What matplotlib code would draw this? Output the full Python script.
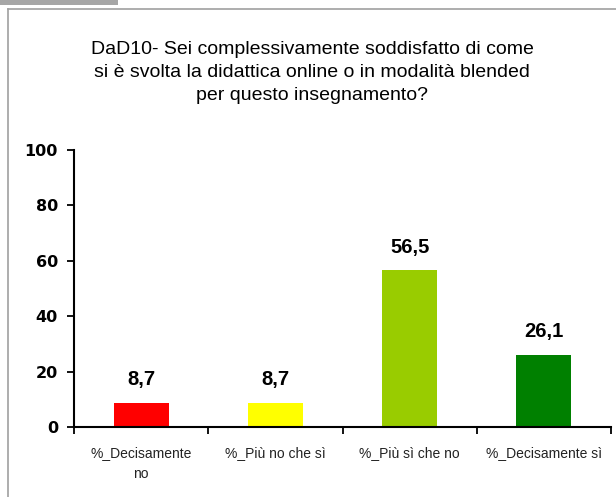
import matplotlib
matplotlib.use("Agg")
import matplotlib.pyplot as plt
from matplotlib.lines import Line2D
from matplotlib.patches import Rectangle

categories = ["%_Decisamente\nno", "%_Più no che sì", "%_Più sì che no", "%_Decisamente sì"]
values = [8.7, 8.7, 56.5, 26.1]
value_labels = ["8,7", "8,7", "56,5", "26,1"]
colors = ["#FF0000", "#FFFF00", "#99CC00", "#008000"]
yticks = [0, 20, 40, 60, 80, 100]
title = ("DaD10- Sei complessivamente soddisfatto di come\n"
         "si è svolta la didattica online o in modalità blended\n"
         "per questo insegnamento?")

W, H = 616, 497
fig = plt.figure(figsize=(W / 100, H / 100), dpi=100)
plt.rcParams['font.family'] = ['Liberation Sans', 'DejaVu Sans']

# frame decorations
fig.add_artist(Rectangle((0, 1 - 5 / H), 118 / W, 5 / H, transform=fig.transFigure,
                         facecolor="#a6a6a6", edgecolor="none"))
fig.add_artist(Line2D([8 / W, 8 / W], [0, 1 - 9 / H], transform=fig.transFigure,
                      color="#a0a0a0", lw=1.2))
fig.add_artist(Line2D([8 / W, 1], [1 - 9 / H, 1 - 9 / H], transform=fig.transFigure,
                      color="#a0a0a0", lw=1.2))

ax = fig.add_axes([74 / W, 1 - 427 / H, (611 - 74) / W, (427 - 150) / H])
x = list(range(len(categories)))
bars = ax.bar(x, values, width=0.41, color=colors, edgecolor="none", zorder=2)
for xi, v, lab in zip(x, values, value_labels):
    ax.annotate(lab, (xi, v), xytext=(0, 10), textcoords="offset points",
                ha="center", va="bottom", fontsize=14.5, fontweight="bold", color="black")

ax.set_xlim(-0.5, len(categories) - 0.5)
ax.set_ylim(0, 100)
ax.set_yticks(yticks)
ax.set_yticklabels([str(t) for t in yticks], fontsize=11.5, fontweight="bold",
                   family="DejaVu Sans")
ax.set_xticks(x)
ax.set_xticklabels(categories, fontsize=10, color="#222222", linespacing=1.6)
ax.set_xticks([i - 0.5 for i in range(len(categories) + 1)], minor=True)
ax.tick_params(axis="x", which="major", length=0, pad=14)
ax.tick_params(axis="x", which="minor", length=5, width=1.3, direction="out")
ax.tick_params(axis="y", which="major", length=5, width=1.3, direction="out", pad=6.5)
for s in ["top", "right"]:
    ax.spines[s].set_visible(False)
for s in ["left", "bottom"]:
    ax.spines[s].set_linewidth(1.5)
    ax.spines[s].set_color("black")

fig.text(312 / W, 1 - 72.5 / H, title, ha="center", va="center", fontsize=14,
         linespacing=1.48, color="black")

fig.savefig("out.png", dpi=100, facecolor="white")
